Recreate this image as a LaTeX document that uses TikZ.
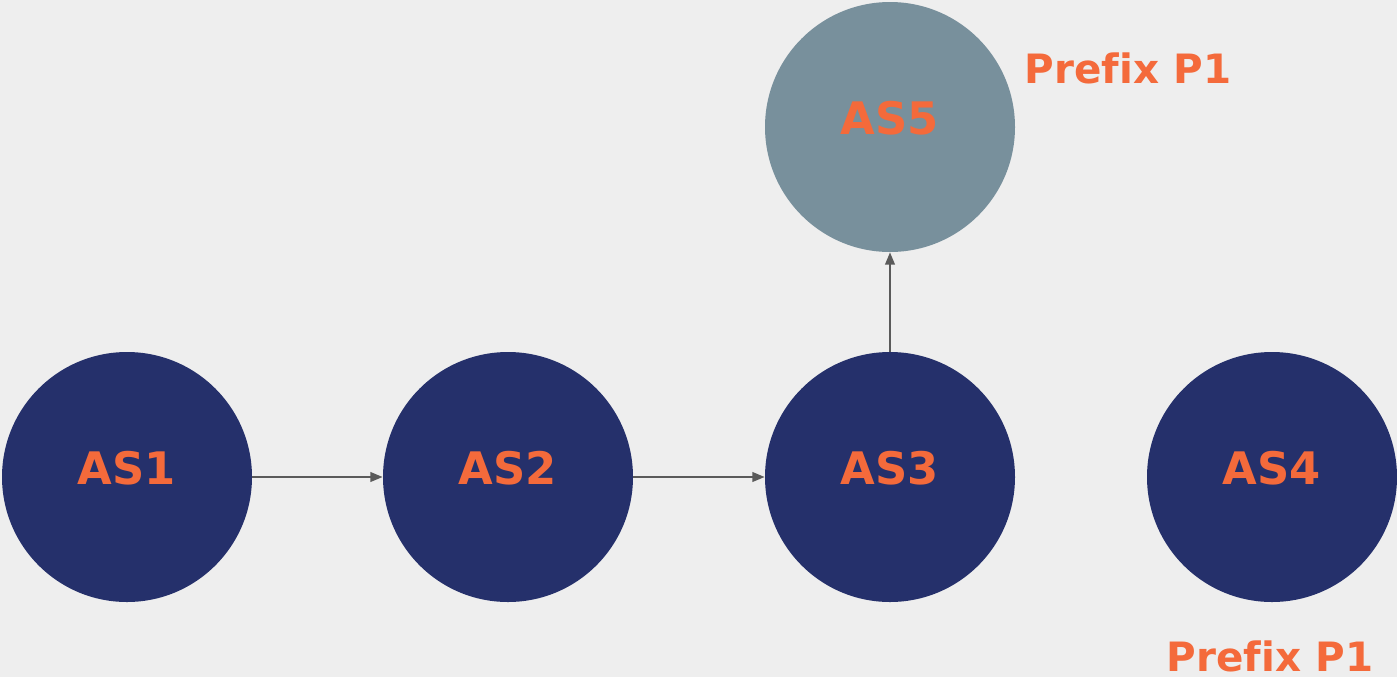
\documentclass[tikz,border=0pt]{standalone}
\usepackage{fontspec}
\setmainfont{DejaVu Sans}[Ligatures=NoCommon]
\usetikzlibrary{arrows.meta}
\definecolor{bg}{HTML}{EEEEEE}
\definecolor{navy}{HTML}{25306B}
\definecolor{slate}{HTML}{78909C}
\definecolor{orange}{HTML}{F46A3B}
\definecolor{arrowgray}{HTML}{5A5A5A}
\tikzset{
  asnode/.style={circle, fill=navy, minimum size=250*0.02cm, inner sep=0pt, text=orange,
    text height=0.30cm, text depth=0pt, font=\fontsize{25.5}{30}\selectfont\bfseries},
  conn/.style={draw=arrowgray, line width=1.1pt, -{Triangle[length=7pt,width=5.5pt]}},
  pfxlabel/.style={text=orange, font=\fontsize{23}{28}\selectfont\bfseries, inner sep=0pt,
    text depth=0pt, anchor=base}
}
\begin{document}
\begin{tikzpicture}[x=0.02cm,y=-0.02cm]
\fill[bg] (0,0) rectangle (1397,677);
\useasboundingbox (0,0) rectangle (1397,677);
\node[asnode] (as1) at (127,477) {AS1};
\node[asnode] (as2) at (508,477) {AS2};
\node[asnode] (as3) at (890,477) {AS3};
\node[asnode] (as4) at (1272,477) {AS4};
\node[asnode, fill=slate] (as5) at (890,127) {AS5};
\node[pfxlabel] (p1) at (1128,83) {Prefix P1};
\node[pfxlabel] (p2) at (1270,671) {Prefix P1};
\draw[conn] (as1) -- (as2);
\draw[conn] (as2) -- (as3);
\draw[conn] (as3) -- (as5);
\end{tikzpicture}
\end{document}
